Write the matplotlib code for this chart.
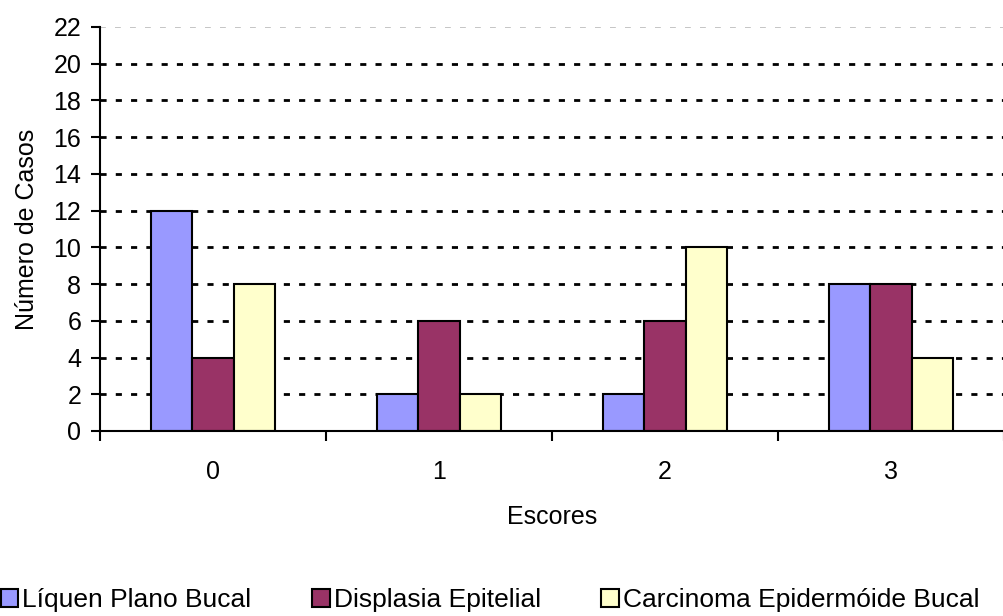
import numpy as np
import matplotlib.pyplot as plt
from matplotlib.patches import Patch

escores = ["0", "1", "2", "3"]
series = ["Líquen Plano Bucal", "Displasia Epitelial", "Carcinoma Epidermóide Bucal"]
liquen = [12, 2, 2, 8]
displasia = [4, 6, 6, 8]
carcinoma = [8, 2, 10, 4]
colors = ["#9999ff", "#993366", "#ffffcc"]

plt.rcParams['font.family'] = ['Liberation Sans', 'DejaVu Sans']

fig = plt.figure(figsize=(10.04, 6.16), dpi=100)
ax = fig.add_axes([100/1004, 1-431/616, 1-100/1004, (431-27)/616])

x = np.arange(len(escores))
w = 0.182
for i, vals in enumerate([liquen, displasia, carcinoma]):
	ax.bar(x + (i-1)*w, vals, width=w, color=colors[i], edgecolor="black", linewidth=1.5, zorder=3)

for yv in range(2, 22, 2):
	ax.axhline(yv, color="black", lw=2, dashes=(2.2, 3.3), zorder=1)
ax.axhline(22, color="#bbbbbb", lw=1.2, dashes=(3.5, 5.5), zorder=1)

ax.set_xlim(-0.5, 3.45)
ax.set_ylim(0, 22)
ax.set_yticks(range(0, 23, 2))
ax.set_xticks(x)
ax.set_xticklabels(escores)
ax.set_xticks(np.arange(-0.5, 4, 1), minor=True)
ax.tick_params(axis="x", which="major", length=0, labelsize=18, pad=21)
ax.tick_params(axis="x", which="minor", length=7, width=1.5, direction="out")
ax.tick_params(axis="y", length=6.5, width=1.5, direction="out", labelsize=18, pad=7)
for s in ["top", "right"]:
	ax.spines[s].set_visible(False)
for s in ["left", "bottom"]:
	ax.spines[s].set_linewidth(1.5)
	ax.spines[s].set_zorder(4)

ax.set_ylabel("Número de Casos", fontsize=18, labelpad=10)
ax.set_xlabel("Escores", fontsize=18, labelpad=15)

handles = [Patch(facecolor=c, edgecolor="black", linewidth=1.5) for c in colors]
fig.legend(handles, series, loc="lower left", bbox_to_anchor=(0.001, 0.006), ncol=3, frameon=False,
	fontsize=19, handlelength=0.66, handleheight=0.66, handletextpad=0.15, columnspacing=2.3,
	borderpad=0, borderaxespad=0)

fig.savefig("out.png", dpi=100)
